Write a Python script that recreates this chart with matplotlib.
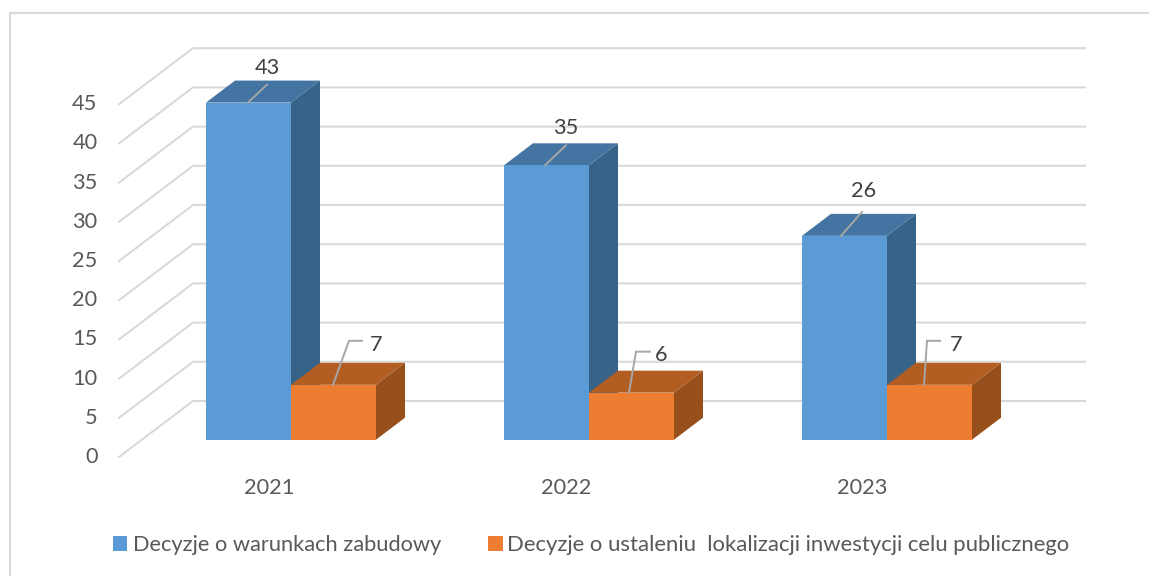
import matplotlib
matplotlib.use('Agg')
import matplotlib.pyplot as plt
from matplotlib.patches import Polygon, Rectangle

years = ['2021', '2022', '2023']
warunki = [43, 35, 26]
lokalizacja = [7, 6, 7]
yticks = [0, 5, 10, 15, 20, 25, 30, 35, 40, 45]
names = ['Decyzje o warunkach zabudowy',
         'Decyzje o ustaleniu  lokalizacji inwestycji celu publicznego']

W, H = 1149, 576
# scale of the chart in pixels
PX_GROUP = 298.0
PX_VALUE = 7.84
X0_PX = 291.0
Y0_PX = 439.7
FS = 15.7

plt.rcParams['font.family'] = ['Lato', 'DejaVu Sans']

fig = plt.figure(figsize=(W / 100, H / 100), dpi=100)
ax = fig.add_axes([0, 0, 1, 1])
ax.set_xlim(-X0_PX / PX_GROUP, (W - X0_PX) / PX_GROUP)
ax.set_ylim(-(H - Y0_PX) / PX_VALUE, Y0_PX / PX_VALUE)
ax.axis('off')


def px(dx):
    return dx / PX_GROUP


def py(dy):
    return dy / PX_VALUE


def fx(x):
    # figure pixel -> data x
    return (x - X0_PX) / PX_GROUP


def fy(y):
    # figure pixel -> data y
    return (Y0_PX - y) / PX_VALUE


# outer frame, only top and left are visible
ax.plot([fx(10), fx(10), fx(W)], [fy(H), fy(12.5), fy(12.5)], color='#d9d9d9', lw=1.5, zorder=1,
        solid_joinstyle='miter')

# walls: diagonal on the left side, grid line on the back
grid_c = '#d9d9d9'
for v in yticks:
    y_back = v + py(Y0_PX - 401)
    y_front = v - py(457 - Y0_PX)
    ax.plot([fx(119), fx(193), fx(1085)], [y_front, y_back, y_back],
            color=grid_c, lw=1.5, zorder=2, solid_joinstyle='miter')
    ax.text(fx(97.5), y_front + py(2), str(v), ha='right', va='center_baseline',
            fontsize=FS, color='#595959', zorder=6)

# depth of a bar
DX = px(29)
DY = py(22)
BW = px(85)


def bar3d(x0, v, front, top, side, z):
    ax.add_patch(Polygon([(x0 + BW, 0), (x0 + BW + DX, DY), (x0 + BW + DX, v + DY), (x0 + BW, v)],
                         closed=True, fc=side, ec='none', zorder=z))
    ax.add_patch(Polygon([(x0, v), (x0 + DX, v + DY), (x0 + BW + DX, v + DY), (x0 + BW, v)],
                         closed=True, fc=top, ec='none', zorder=z))
    ax.add_patch(Rectangle((x0, 0), BW, v, fc=front, ec='none', zorder=z + 0.5))


c_front = ['#5b9bd5', '#ed7d31']
c_top = ['#4474a1', '#b25e22']
c_side = ['#386388', '#974f1c']
year_dx = [-22, -23, -25]

for i in range(len(years)):
    bar3d(i - BW, warunki[i], c_front[0], c_top[0], c_side[0], 3)
    bar3d(i, lokalizacja[i], c_front[1], c_top[1], c_side[1], 4)
    ax.text(i + px(year_dx[i]), fy(486), years[i], ha='center', va='center_baseline',
            fontsize=FS, color='#595959', zorder=6)

# value labels with their leader lines, offsets in pixels from the bar top
lead_c = '#a6a6a6'
blue_lead = [(-43, 0, -24, 18), (-44, 0, -23, 20), (-46, 0, -25, 24)]
blue_text = [(-24, 37), (-23, 39), (-23, 47)]
for i, v in enumerate(warunki):
    a, b, c, d = blue_lead[i]
    ax.plot([i + px(a), i + px(c)], [v, v + py(d)], color=lead_c, lw=1.4, zorder=5)
    ax.text(i + px(blue_text[i][0]), v + py(blue_text[i][1]), str(v), ha='center', va='center_baseline',
            fontsize=FS, color='#404040', zorder=6)

orange_lead = [[(42, 0), (58, 44), (71, 44)], [(40, 0), (47, 41), (61, 41)], [(37, 0), (40, 44), (53, 44)]]
orange_text = [(85, 42), (72, 40), (69, 42)]
for i, v in enumerate(lokalizacja):
    pts = orange_lead[i]
    ax.plot([i + px(p[0]) for p in pts], [v + py(p[1]) for p in pts],
            color=lead_c, lw=1.4, zorder=5, solid_joinstyle='miter')
    ax.text(i + px(orange_text[i][0]), v + py(orange_text[i][1]), str(v), ha='center', va='center_baseline',
            fontsize=FS, color='#404040', zorder=6)

# legend
for sq, tx, name, col, fs in zip((113, 488), (133, 507), names, c_front, (15.75, 15.93)):
    ax.add_patch(Rectangle((fx(sq), fy(550.5)), px(14.5), py(14.5), fc=col, ec='none', zorder=6))
    ax.text(fx(tx), fy(543), name, ha='left', va='center_baseline', fontsize=fs, color='#595959', zorder=6)

fig.savefig('out.png', dpi=100, facecolor='white')
